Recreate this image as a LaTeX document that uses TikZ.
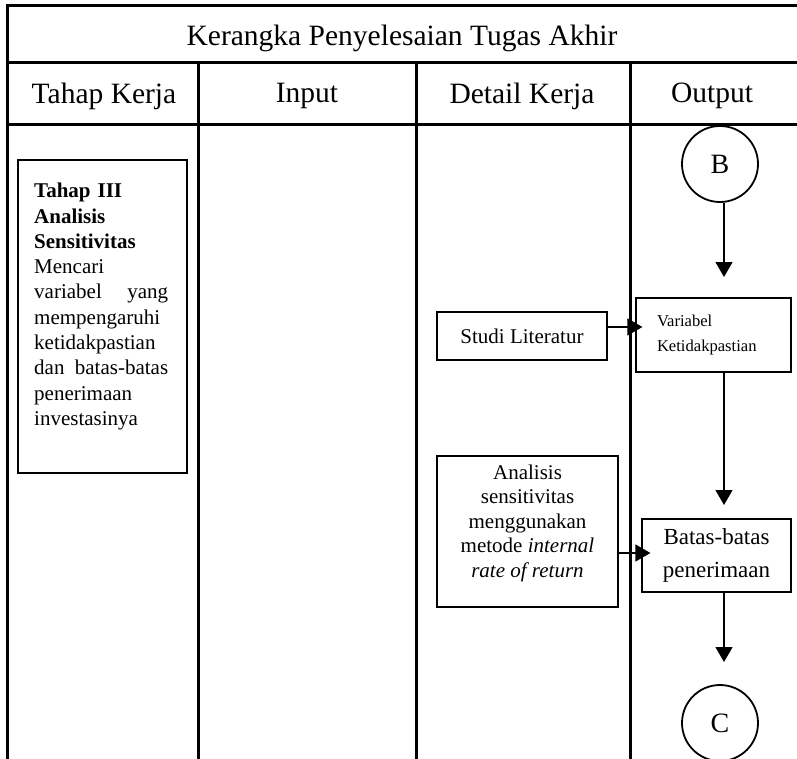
\documentclass[tikz,border=0pt]{standalone}
\usepackage{fontspec}
\setmainfont{Liberation Serif}
\usetikzlibrary{arrows.meta}
\begin{document}
\begin{tikzpicture}[x=1pt,y=-1pt,
  tbl/.style={line width=3pt},
  box/.style={draw,line width=1.2pt,inner sep=0pt},
  arr/.style={line width=1.3pt,-{Triangle[length=15pt,width=17pt]}},
  circ/.style={draw,circle,line width=1.8pt,minimum size=76pt,inner sep=0pt,font=\fontsize{28}{32}\selectfont},
  head/.style={font=\fontsize{29.5}{34}\selectfont,inner sep=0pt},
  txt/.style={font=\fontsize{21}{24.5}\selectfont}
]
\useasboundingbox (0,0) rectangle (797,758);
\begin{scope}
  \clip (0,0) rectangle (797,758);
  \draw[tbl] (7,762) -- (7,5) -- (802,5);
  \draw[tbl] (7,62) -- (802,62);
  \draw[tbl] (7,124) -- (802,124);
  \foreach \x in {198,416,630} \draw[tbl] (\x,62) -- (\x,762);
\end{scope}
% headings
\node[head] (title) at (402,38) {Kerangka Penyelesaian Tugas Akhir};
\node[head] (h1) at (104,96) {Tahap Kerja};
\node[head] (h2) at (307,96) {Input};
\node[head] (h3) at (522,96) {Detail Kerja};
\node[head] (h4) at (712,96) {Output};
% left box
\node[box,minimum width=169pt,minimum height=313pt] (tahap) at (102.5,316.5) {};
\node[anchor=north west,inner sep=0pt,text width=134pt,align=left,
      font=\fontsize{21}{25.3}\selectfont] (tahaptext) at (34,183)
  {\textbf{Tahap III}\\\textbf{Analisis}\\\textbf{Sensitivitas}\\Mencari\\variabel\hfill yang\\mempengaruhi\\ketidakpastian\\dan\hfill batas-batas\\penerimaan\\investasinya};
% output column
\node[circ] (B) at (720,164) {B};
\coordinate (bEnd) at (724,277);
\draw[arr] (B.south -| bEnd) -- (bEnd);
\node[box,minimum width=155pt,minimum height=74pt,text width=113pt,inner xsep=21pt,align=left,
      font=\fontsize{16.6}{25}\selectfont] (vk) at (713.5,335) {Variabel\\Ketidakpastian};
\node[box,txt,minimum width=170pt,minimum height=48pt] (studi) at (522,336) {Studi Literatur};
\coordinate (sa) at (607,327);
\draw[arr,shorten >=-7pt] (studi.east |- sa) -- (vk.west |- sa);
\coordinate (vkEnd) at (724,505);
\draw[arr] (vk.south -| vkEnd) -- (vkEnd);
\node[box,minimum width=181pt,minimum height=151pt] (anal) at (527.5,531.5) {};
\node[txt,align=center,inner sep=0pt] (analtext) at (527.5,523)
  {Analisis\\sensitivitas\\menggunakan\\metode \textit{internal}\\\textit{rate of return}};
\node[box,minimum width=149pt,minimum height=73pt,align=center,
      font=\fontsize{23}{33}\selectfont] (batas) at (716.5,555.5) {Batas-batas\\penerimaan};
\coordinate (ab) at (618,553);
\draw[arr,shorten >=-9pt] (anal.east |- ab) -- (batas.west |- ab);
\coordinate (bcEnd) at (724,662);
\draw[arr] (batas.south -| bcEnd) -- (bcEnd);
\node[circ] (C) at (720,723) {C};
\end{tikzpicture}
\end{document}
